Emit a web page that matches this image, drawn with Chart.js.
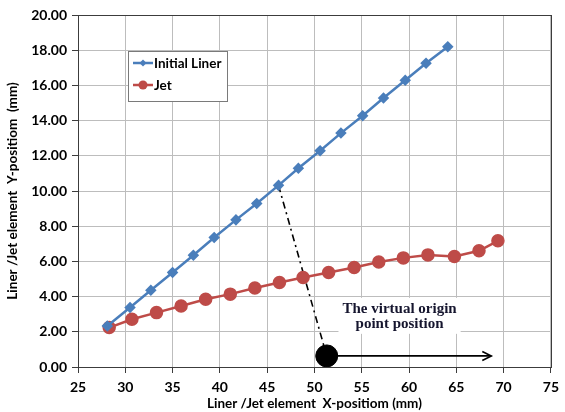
<!DOCTYPE html>
<html>
<head>
<meta charset="utf-8">
<script src="https://cdn.jsdelivr.net/npm/chart.js@4.4.1/dist/chart.umd.min.js"></script>
<style>
  html, body { margin: 0; padding: 0; background: #ffffff; }
  #wrap { width: 565px; height: 412px; }
</style>
</head>
<body>
<div id="wrap"><canvas id="c" width="565" height="412"></canvas></div>
<script>
// Liner element positions (mm)
const linerX = [28.1, 30.5, 32.7, 35.0, 37.2, 39.4, 41.7, 43.9, 46.2, 48.3, 50.6, 52.8, 55.1, 57.3, 59.6, 61.8, 64.1];
const linerY = [2.33, 3.38, 4.36, 5.37, 6.35, 7.36, 8.36, 9.29, 10.32, 11.29, 12.29, 13.29, 14.28, 15.28, 16.29, 17.26, 18.20];

// Jet element positions (mm)
const jetX = [28.3, 30.7, 33.3, 35.9, 38.5, 41.1, 43.7, 46.3, 48.8, 51.5, 54.2, 56.8, 59.4, 62.0, 64.8, 67.4, 69.4];
const jetY = [2.24, 2.71, 3.09, 3.47, 3.85, 4.14, 4.49, 4.80, 5.08, 5.37, 5.65, 5.97, 6.20, 6.37, 6.28, 6.60, 7.17];

// Virtual origin construction: projection from the liner point, origin point, arrow end
const projX = [46.2, 51.3];
const projY = [10.32, 0.63];
const originX = [51.3];
const originY = [0.63];
const arrowX = [51.3, 68.7];
const arrowY = [0.63, 0.63];
const noteX = 59.0;
const noteY = 2.85;
const noteLines = ["The virtual origin", "point position"];

// Axis ticks
const xTicks = [25, 30, 35, 40, 45, 50, 55, 60, 65, 70, 75];
const yTicks = [0, 2, 4, 6, 8, 10, 12, 14, 16, 18, 20];

const seriesNames = ["Initial Liner", "Jet"];
const BLUE = "#4a7ebb";
const RED = "#be4b48";
const FONT = "Lato, 'Open Sans', sans-serif";

const pts = (xs, ys) => xs.map((x, i) => ({ x: x, y: ys[i] }));

// Legend box, annotation text box and arrowhead
const decor = {
  id: "decor",
  beforeDatasetsDraw(chart) {
    const { ctx, chartArea: a, scales: { x, y } } = chart;
    // outer frame of the plot area
    ctx.save();
    ctx.strokeStyle = "#3c3c3c";
    ctx.lineWidth = 1;
    ctx.strokeRect(Math.round(a.left) + 0.5, Math.round(a.top) + 0.5, Math.round(a.right - a.left), Math.round(a.bottom - a.top));
    // note background
    ctx.font = "bold 15px 'Liberation Serif', 'Times New Roman', serif";
    const cx = x.getPixelForValue(noteX);
    const cy = y.getPixelForValue(noteY);
    const w = Math.max(...noteLines.map(t => ctx.measureText(t).width)) + 8;
    ctx.fillStyle = "#ffffff";
    ctx.fillRect(cx - w / 2, cy - 19, w, 36);
    ctx.restore();
  },
  afterDatasetsDraw(chart) {
    const { ctx, scales: { x, y } } = chart;
    ctx.save();
    // note text
    ctx.font = "bold 15px 'Liberation Serif', 'Times New Roman', serif";
    ctx.fillStyle = "#15152e";
    ctx.textAlign = "center";
    ctx.textBaseline = "middle";
    const cx = x.getPixelForValue(noteX);
    const cy = y.getPixelForValue(noteY);
    ctx.fillText(noteLines[0], cx, cy - 7.5);
    ctx.fillText(noteLines[1], cx, cy + 7.5);

    // arrowhead at the end of the arrow line
    const ex = x.getPixelForValue(arrowX[1]);
    const ey = y.getPixelForValue(arrowY[1]);
    ctx.strokeStyle = "#000000";
    ctx.lineWidth = 1.6;
    ctx.beginPath();
    ctx.moveTo(ex - 9, ey - 4.5);
    ctx.lineTo(ex, ey);
    ctx.lineTo(ex - 9, ey + 4.5);
    ctx.stroke();

    // legend
    const lx = 128, ly = 51, lw = 99, lh = 50;
    ctx.fillStyle = "#ffffff";
    ctx.fillRect(lx, ly, lw, lh);
    ctx.strokeStyle = "#7a7a7a";
    ctx.lineWidth = 1;
    ctx.strokeRect(lx + 0.5, ly + 0.5, lw, lh);
    const rows = [
      { name: seriesNames[0], color: BLUE, y: ly + 12, style: "diamond" },
      { name: seriesNames[1], color: RED, y: ly + 34, style: "circle" }
    ];
    ctx.font = "bold 13.5px " + FONT;
    ctx.textAlign = "left";
    ctx.textBaseline = "middle";
    rows.forEach(r => {
      ctx.strokeStyle = r.color;
      ctx.lineWidth = 2.5;
      ctx.beginPath();
      ctx.moveTo(lx + 5, r.y);
      ctx.lineTo(lx + 25, r.y);
      ctx.stroke();
      ctx.fillStyle = r.color;
      ctx.beginPath();
      if (r.style === "diamond") {
        const m = lx + 15, s = 3.5;
        ctx.moveTo(m, r.y - s); ctx.lineTo(m + s, r.y); ctx.lineTo(m, r.y + s); ctx.lineTo(m - s, r.y);
        ctx.closePath();
      } else {
        ctx.arc(lx + 15, r.y, 4.5, 0, Math.PI * 2);
      }
      ctx.fill();
      ctx.fillStyle = "#000000";
      ctx.fillText(r.name, lx + 26, r.y + 1);
    });
    ctx.restore();
  }
};

new Chart(document.getElementById("c"), {
  type: "scatter",
  data: {
    datasets: [
      {
        label: seriesNames[0],
        data: pts(linerX, linerY),
        showLine: true,
        borderColor: BLUE,
        backgroundColor: BLUE,
        borderWidth: 2.5,
        pointStyle: "rectRot",
        pointRadius: 4,
        pointHoverRadius: 4,
        order: 2
      },
      {
        label: seriesNames[1],
        data: pts(jetX, jetY),
        showLine: true,
        borderColor: RED,
        backgroundColor: RED,
        borderWidth: 2.5,
        pointStyle: "circle",
        pointRadius: 5.5,
        pointHoverRadius: 5.5,
        order: 3
      },
      {
        label: "projection",
        data: pts(projX, projY),
        showLine: true,
        borderColor: "#000000",
        borderWidth: 1.6,
        borderDash: [7, 4, 2, 4],
        pointRadius: 0,
        order: 4
      },
      {
        label: "arrow",
        data: pts(arrowX, arrowY),
        showLine: true,
        borderColor: "#000000",
        borderWidth: 1.6,
        pointRadius: 0,
        order: 5
      },
      {
        label: "origin",
        data: pts(originX, originY),
        showLine: false,
        backgroundColor: "#000000",
        borderColor: "#000000",
        pointRadius: 11,
        pointHoverRadius: 11,
        order: 1
      }
    ]
  },
  options: {
    responsive: false,
    animation: false,
    events: [],
    layout: { padding: { top: 15, right: 8, left: 0, bottom: 0 } },
    plugins: {
      legend: { display: false },
      tooltip: { enabled: false }
    },
    scales: {
      x: {
        type: "linear",
        min: xTicks[0],
        max: xTicks[xTicks.length - 1],
        afterBuildTicks: s => { s.ticks = xTicks.map(v => ({ value: v })); },
        afterFit: s => { s.height = 45; },
        grid: { color: "#bdbdbd", lineWidth: 1, tickLength: 6, tickColor: "#3c3c3c" },
        border: { color: "#3c3c3c", width: 1 },
        ticks: {
          color: "#000000",
          padding: 6,
          maxRotation: 0,
          font: { family: FONT, size: 14, weight: "bold" },
          callback: v => String(v)
        },
        title: {
          display: true,
          text: "Liner /Jet element  X-positiom (mm)",
          color: "#000000",
          padding: { top: 0, bottom: 0 },
          font: { family: FONT, size: 13.5, weight: "bold" }
        }
      },
      y: {
        type: "linear",
        min: yTicks[0],
        max: yTicks[yTicks.length - 1],
        afterBuildTicks: s => { s.ticks = yTicks.map(v => ({ value: v })); },
        afterFit: s => { s.width = 78; },
        grid: { color: "#bdbdbd", lineWidth: 1, tickLength: 6, tickColor: "#3c3c3c" },
        border: { color: "#3c3c3c", width: 1 },
        ticks: {
          color: "#000000",
          padding: 5,
          font: { family: FONT, size: 14, weight: "bold" },
          callback: v => Number(v).toFixed(2)
        },
        title: {
          display: true,
          text: "Liner /Jet element  Y-positiom  (mm)",
          color: "#000000",
          padding: { top: 5, bottom: 0 },
          font: { family: FONT, size: 13.5, weight: "bold" }
        }
      }
    }
  },
  plugins: [decor]
});
</script>
</body>
</html>
